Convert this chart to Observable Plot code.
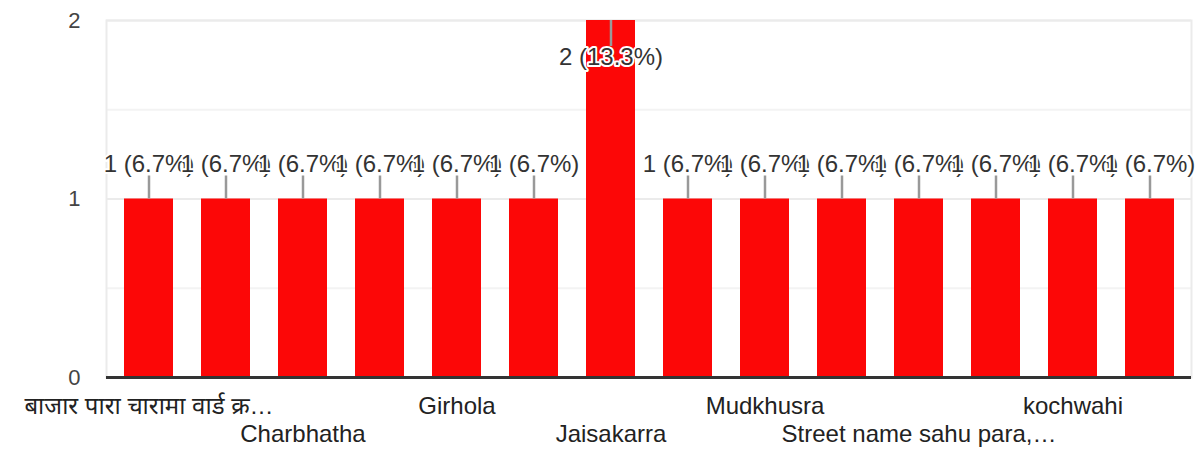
<!DOCTYPE html>
<html>
<head>
<meta charset="utf-8">
<script src="https://cdn.jsdelivr.net/npm/d3@7"></script>
<script src="https://cdn.jsdelivr.net/npm/@observablehq/plot@0.6"></script>
<style>
  html, body { margin: 0; padding: 0; background: #fff; }
  #chart svg { font-family: "Liberation Sans", Arial, "Noto Sans", sans-serif; }
</style>
</head>
<body>
<div id="chart"></div>
<script>
// Categories (only every other name is legible in the reference; the rest are placeholders)
const categories = [
  "बाजार पारा चारामा वार्ड क्र…", "Location 2", "Charbhatha", "Location 4",
  "Girhola", "Location 6", "Jaisakarra", "Location 8",
  "Mudkhusra", "Location 10", "Street name sahu para,…", "Location 12",
  "kochwahi", "Location 14"
];
const counts = [1, 1, 1, 1, 1, 1, 2, 1, 1, 1, 1, 1, 1, 1];
const yTicks = [0, 1, 2];
const yMinorTicks = [0.5, 1.5];
const labelRow1 = ["बाजार पारा चारामा वार्ड क्र…", "Girhola", "Mudkhusra", "kochwahi"];
const labelRow2 = ["Charbhatha", "Jaisakarra", "Street name sahu para,…"];

const total = d3.sum(counts);
const maxCount = d3.max(counts);
const data = categories.map((name, i) => ({
  name,
  count: counts[i],
  label: `${counts[i]} (${(counts[i] / total * 100).toFixed(1)}%)`
}));
const outside = data.filter(d => d.count < maxCount);
const inside = data.filter(d => d.count === maxCount);

const chart = Plot.plot({
  width: 1199,
  height: 453,
  marginLeft: 106,
  marginRight: 8,
  marginTop: 20,
  marginBottom: 76,
  style: { fontFamily: '"Liberation Sans", Arial, "Noto Sans", sans-serif', background: "#fff" },
  x: { domain: categories, paddingInner: 0.365, paddingOuter: 0.19, axis: null },
  y: { domain: [0, 2], axis: null },
  marks: [
    Plot.gridY(yMinorTicks, { stroke: "#f3f3f3", strokeOpacity: 1, strokeWidth: 2 }),
    Plot.gridY(yTicks, { stroke: "#ebebeb", strokeOpacity: 1, strokeWidth: 2 }),
    Plot.frame({ stroke: "#ebebeb", strokeWidth: 2 }),
    Plot.axisY({ ticks: yTicks, tickFormat: d3.format("d"), tickSize: 0, tickPadding: 26, fontSize: 22, color: "#444", label: null }),
    Plot.axisX({ ticks: labelRow1, tickSize: 0, tickPadding: 19, fontSize: 24, color: "#222", label: null }),
    Plot.axisX({ ticks: labelRow2, tickSize: 0, tickPadding: 47, fontSize: 24, color: "#222", label: null }),
    Plot.barY(data, { x: "name", y: "count", fill: "#fc0707" }),
    Plot.ruleY([0], { stroke: "#333", strokeWidth: 3 }),
    // leader lines
    Plot.ruleX(outside, { x: "name", y1: "count", y2: "count", insetBottom: 23, stroke: "#999", strokeWidth: 2.5 }),
    Plot.ruleX(inside, { x: "name", y1: "count", y2: "count", insetTop: 26, stroke: "#999", strokeWidth: 2.5 }),
    // value labels
    Plot.text(outside, { x: "name", y: "count", text: "label", dy: -35, fontSize: 24, fill: "#333", stroke: "white", strokeWidth: 4 }),
    Plot.text(inside, { x: "name", y: "count", text: "label", dy: 37, fontSize: 24, fill: "#333", stroke: "white", strokeWidth: 4 })
  ]
});
document.getElementById("chart").append(chart);
</script>
</body>
</html>
